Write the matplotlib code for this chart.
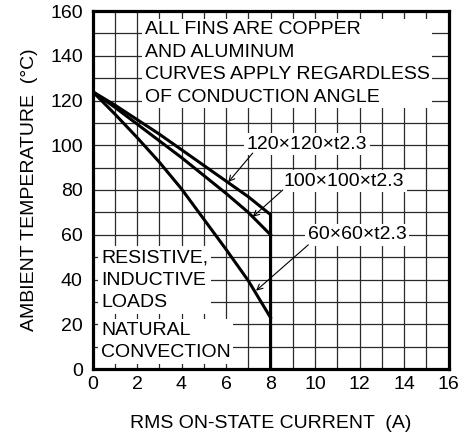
import matplotlib
matplotlib.use("Agg")
import matplotlib.pyplot as plt

# ── Data ──────────────────────────────────────────────────────────────────────
current = [0, 1, 2, 3, 4, 5, 6, 7, 8]
temp_120 = [124, 118, 111.5, 105, 98, 91, 84, 77, 69]
temp_100 = [124, 117, 109.5, 102, 94.5, 86.5, 78.5, 70, 60]
temp_60 = [124, 114, 103.5, 92.5, 80.5, 67, 53.5, 39.5, 23]
fin_labels = ["120×120×t2.3", "100×100×t2.3", "60×60×t2.3"]

x_ticks = list(range(0, 17, 2))
y_ticks = list(range(0, 161, 20))

plt.rcParams["font.family"] = ["Liberation Sans", "DejaVu Sans"]
FS = 14
LS = 1.42

fig = plt.figure(figsize=(4.61, 4.43), dpi=100)
ax = fig.add_axes([92.5 / 461, (443 - 369) / 443, 356 / 461, 358 / 443])

ax.set_xlim(0, 16)
ax.set_ylim(0, 160)
ax.set_axisbelow(True)
ax.set_xticks(x_ticks)
ax.set_yticks(y_ticks)
ax.set_xticks(range(0, 17), minor=True)
ax.set_yticks(range(0, 161, 10), minor=True)
ax.grid(True, which="both", color="#2a2a2a", linewidth=0.9)
ax.tick_params(which="both", length=0, labelsize=FS)
ax.tick_params(axis="y", pad=7)
ax.tick_params(axis="x", pad=5)
for s in ax.spines.values():
    s.set_linewidth(2.3)

# ── Curves ────────────────────────────────────────────────────────────────────
lw = 2.2
ax.plot(current + [8], temp_120 + [0], color="black", lw=lw, zorder=3,
        solid_joinstyle="miter")
ax.plot(current, temp_100, color="black", lw=lw, zorder=3)
ax.plot(current, temp_60, color="black", lw=lw, zorder=3)

# ── Text boxes ────────────────────────────────────────────────────────────────
box = dict(facecolor="white", edgecolor="none", pad=2)
ax.text(2.35, 155.4, "ALL FINS ARE COPPER\nAND ALUMINUM\nCURVES APPLY REGARDLESS\nOF CONDUCTION ANGLE",
        fontsize=FS, va="top", ha="left", linespacing=LS, bbox=box, zorder=4)
ax.text(0.38, 53.6, "RESISTIVE,\nINDUCTIVE\nLOADS",
        fontsize=FS, va="top", ha="left", linespacing=LS, bbox=box, zorder=4)
ax.text(0.38, 21.2, "NATURAL\nCONVECTION",
        fontsize=FS, va="top", ha="left", linespacing=LS, bbox=box, zorder=4)

# ── Fin labels with leader arrows ─────────────────────────────────────────────
arrow = dict(arrowstyle="->", color="black", lw=0.8, shrinkA=0, shrinkB=0)
label_pos = [(9.65, 100.5), (11.3, 84), (11.9, 60)]
arrow_from = [(7.2, 96.5), (8.55, 80), (9.7, 55.5)]
arrow_to = [(6.1, 83.5), (7.2, 68), (7.35, 35)]
for lab, (tx, ty), src, dst in zip(fin_labels, label_pos, arrow_from, arrow_to):
    ax.text(tx, ty, lab, fontsize=FS, ha="center", va="center", bbox=box, zorder=4)
    ax.annotate("", xy=dst, xytext=src, arrowprops=arrow, zorder=5)

ax.set_xlabel("RMS ON-STATE CURRENT  (A)", fontsize=FS, labelpad=16)
ax.set_ylabel("AMBIENT TEMPERATURE  (°C)", fontsize=FS, labelpad=9)

fig.savefig("out.png", dpi=100)
